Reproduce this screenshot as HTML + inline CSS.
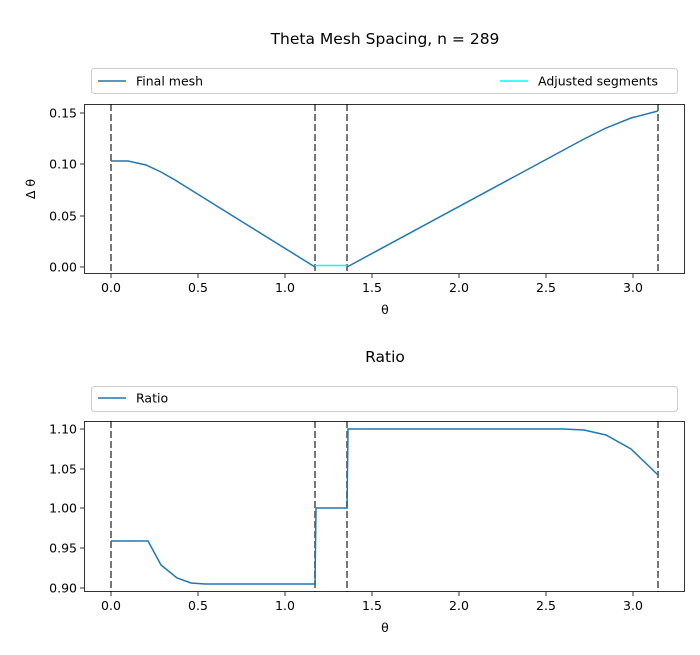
<!DOCTYPE html>
<html><head><meta charset="utf-8"><style>
body{margin:0;background:#fff}
svg text{font-family:"DejaVu Sans","Liberation Sans",sans-serif;fill:#000}
</style></head><body>
<svg width="700" height="650" xmlns="http://www.w3.org/2000/svg">
<rect width="700" height="650" fill="#fff"/>
<text x="385" y="44" font-size="15.5" text-anchor="middle">Theta Mesh Spacing, n = 289</text>
<!-- legend 1 -->
<rect x="91.5" y="68.5" width="586" height="25" rx="3" fill="#fff" stroke="#ccc"/>
<line x1="98" y1="81" x2="126" y2="81" stroke="#1f77b4" stroke-width="1.5"/>
<text x="136" y="85.5" font-size="12.5">Final mesh</text>
<line x1="500" y1="81" x2="528" y2="81" stroke="cyan" stroke-width="1.5"/>
<text x="538" y="85.5" font-size="12.5">Adjusted segments</text>
<!-- axes 1 -->
<g stroke="#777" stroke-width="2" stroke-dasharray="7,3">
<line x1="111" y1="104" x2="111" y2="274"/><line x1="315" y1="104" x2="315" y2="274"/>
<line x1="347" y1="104" x2="347" y2="274"/><line x1="658" y1="104" x2="658" y2="274"/>
</g>
<polyline fill="none" stroke="#1f77b4" stroke-width="1.5" points="111,161 128,161 146,165 161,172 175,180 315,267"/>
<line x1="315" y1="265.5" x2="347" y2="265.5" stroke="cyan" stroke-width="1.5"/>
<polyline fill="none" stroke="#1f77b4" stroke-width="1.5" points="347,267 584,139 606,128 631,118 658,111"/>
<rect x="84.5" y="104.5" width="600" height="169" fill="none" stroke="#000" stroke-width="0.8"/>
<g stroke="#000" stroke-width="0.8">
<line x1="111" y1="274" x2="111" y2="278"/><line x1="198" y1="274" x2="198" y2="278"/><line x1="285" y1="274" x2="285" y2="278"/><line x1="372" y1="274" x2="372" y2="278"/><line x1="459" y1="274" x2="459" y2="278"/><line x1="546" y1="274" x2="546" y2="278"/><line x1="633" y1="274" x2="633" y2="278"/>
<line x1="80" y1="267" x2="84" y2="267"/><line x1="80" y1="216" x2="84" y2="216"/><line x1="80" y1="164" x2="84" y2="164"/><line x1="80" y1="113" x2="84" y2="113"/>
</g>
<g font-size="12.5" text-anchor="middle">
<text x="111" y="292">0.0</text><text x="198" y="292">0.5</text><text x="285" y="292">1.0</text><text x="372" y="292">1.5</text><text x="459" y="292">2.0</text><text x="546" y="292">2.5</text><text x="633" y="292">3.0</text>
<text x="385" y="314">θ</text>
</g>
<g font-size="12.5" text-anchor="end">
<text x="77" y="271.5">0.00</text><text x="77" y="220.5">0.05</text><text x="77" y="168.5">0.10</text><text x="77" y="117.5">0.15</text>
</g>
<text transform="translate(35,189) rotate(-90)" font-size="12.5" text-anchor="middle">Δ θ</text>

<text x="385" y="362" font-size="15.5" text-anchor="middle">Ratio</text>
<rect x="91.5" y="386.5" width="586" height="25" rx="3" fill="#fff" stroke="#ccc"/>
<line x1="98" y1="398" x2="126" y2="398" stroke="#1f77b4" stroke-width="1.5"/>
<text x="136" y="402.5" font-size="12.5">Ratio</text>
<g stroke="#777" stroke-width="2" stroke-dasharray="7,3">
<line x1="111" y1="421" x2="111" y2="592"/><line x1="315" y1="421" x2="315" y2="592"/>
<line x1="347" y1="421" x2="347" y2="592"/><line x1="658" y1="421" x2="658" y2="592"/>
</g>
<polyline fill="none" stroke="#1f77b4" stroke-width="1.5" points="111,541 148,541 161,565 177,578 191,583 205,584 315,584 316,508 347,508 348,429 563,429 584,430 606,435 631,449 658,475"/>
<rect x="84.5" y="421.5" width="600" height="170" fill="none" stroke="#000" stroke-width="0.8"/>
<g stroke="#000" stroke-width="0.8">
<line x1="111" y1="592" x2="111" y2="596"/><line x1="198" y1="592" x2="198" y2="596"/><line x1="285" y1="592" x2="285" y2="596"/><line x1="372" y1="592" x2="372" y2="596"/><line x1="459" y1="592" x2="459" y2="596"/><line x1="546" y1="592" x2="546" y2="596"/><line x1="633" y1="592" x2="633" y2="596"/>
<line x1="80" y1="588" x2="84" y2="588"/><line x1="80" y1="548" x2="84" y2="548"/><line x1="80" y1="508" x2="84" y2="508"/><line x1="80" y1="469" x2="84" y2="469"/><line x1="80" y1="429" x2="84" y2="429"/>
</g>
<g font-size="12.5" text-anchor="middle">
<text x="111" y="610">0.0</text><text x="198" y="610">0.5</text><text x="285" y="610">1.0</text><text x="372" y="610">1.5</text><text x="459" y="610">2.0</text><text x="546" y="610">2.5</text><text x="633" y="610">3.0</text>
<text x="385" y="632">θ</text>
</g>
<g font-size="12.5" text-anchor="end">
<text x="77" y="592.5">0.90</text><text x="77" y="552.5">0.95</text><text x="77" y="512.5">1.00</text><text x="77" y="473.5">1.05</text><text x="77" y="433.5">1.10</text>
</g>
</svg>
</body></html>
